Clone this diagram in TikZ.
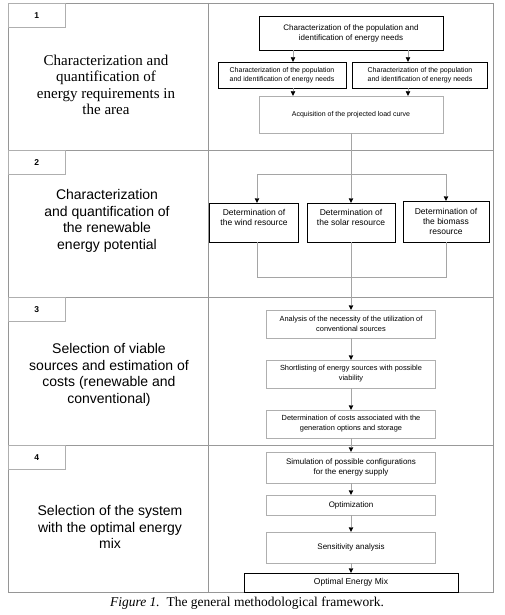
\documentclass[tikz,border=0pt]{standalone}
\usepackage{fontspec}
\setmainfont{Liberation Serif}
\setsansfont{Liberation Sans}
\usetikzlibrary{arrows.meta,positioning}
\definecolor{framecol}{RGB}{150,150,150}
\definecolor{linecol}{RGB}{165,165,165}
\definecolor{boxcol}{RGB}{175,175,175}
\newcommand{\boxfont}[2]{\sffamily\fontsize{#1}{#2}\selectfont}

\tikzset{
  blackbox/.style={draw=black,align=center,inner sep=1pt},
  greybox/.style={draw=boxcol,align=center,inner sep=1pt},
  flow/.style={draw=linecol,-{Triangle[black,length=4.5pt,width=4.5pt]}},
  link/.style={draw=linecol},
  numbox/.style={draw=boxcol,anchor=north west,inner sep=0pt,minimum width=57pt,minimum height=24pt,
    font=\sffamily\bfseries\fontsize{8.5}{10}\selectfont},
  phase/.style={align=center,font=\sffamily\fontsize{14}{16.5}\selectfont}
}

\begin{document}
\begin{tikzpicture}[x=1pt,y=-1pt]
\useasboundingbox (0,0) rectangle (504,615);
% frame and phase rows
\draw[framecol] (8,3) rectangle (493,592);
\draw[framecol] (208,3) -- (208,592);
\foreach \y in {150,297,445}{
  \draw[gray!80,line width=0.9pt] (8,\y) -- (493,\y);
}
\foreach \n/\y in {1/3,2/150,3/297,4/445}{
  \node[numbox] (num\n) at (8,\y) {\n};
}
% phase titles
\node[align=center,font=\fontsize{15}{16.5}\selectfont] (phaseA) at (106,85)
  {Characterization and\\ quantification of\\ energy requirements in\\ the area};
\node[phase] (phaseB) at (107,221)
  {Characterization\\ and quantification of\\ the renewable\\ energy potential};
\node[phase] (phaseC) at (109,375)
  {Selection of viable\\ sources and estimation of\\ costs (renewable and\\ conventional)};
\node[phase] (phaseD) at (110,527)
  {Selection of the system\\ with the optimal energy\\ mix};

% phase 1
\coordinate (tapL) at (293,0);
\coordinate (tapR) at (408,0);
\node[blackbox,minimum width=184pt,minimum height=34pt,font=\boxfont{8}{10}] (popA) at (351,33)
  {Characterization of the population and\\ identification of energy needs};
\node[blackbox,minimum width=128pt,minimum height=26pt,font=\boxfont{7}{9}] (popB) at (282,75)
  {Characterization of the population\\ and identification of energy needs};
\node[blackbox,minimum width=135pt,minimum height=26pt,font=\boxfont{7}{9}] (popC) at (420,75)
  {Characterization of the population\\ and identification of energy needs};
\node[greybox,minimum width=184pt,minimum height=37pt,font=\boxfont{7}{9}] (load) at (351,114.5)
  {Acquisition of the projected load curve};
\draw[flow] (popA.south -| tapL) -- (popB.north -| tapL);
\draw[flow] (popA.south -| tapR) -- (popC.north -| tapR);
\draw[flow] (popB.south -| tapL) -- (load.north -| tapL);
\draw[flow] (popC.south -| tapR) -- (load.north -| tapR);

% phase 2
\node[blackbox,minimum width=89pt,minimum height=39pt,text depth=11pt,font=\boxfont{8.5}{10}] (wind) at (254,222.5)
  {Determination of\\ the wind resource};
\node[blackbox,minimum width=88pt,minimum height=39pt,text depth=11pt,font=\boxfont{8.5}{10}] (solar) at (351,222.5)
  {Determination of\\ the solar resource};
\node[blackbox,minimum width=86pt,minimum height=41pt,font=\boxfont{8.5}{10}] (bio) at (446,221.5)
  {Determination of\\ the biomass\\ resource};
\coordinate (barL) at (257,174);
\coordinate (barR) at (446,174);
\coordinate (footL) at (257,277);
\coordinate (footR) at (446,277);
\draw[flow] (load.south) -- (solar.north);
\draw[link] (barL) -- (barR);
\draw[flow] (barL) -- (barL |- wind.north);
\draw[flow] (barR) -- (bio.north);
\draw[link] (barL |- wind.south) -- (footL) -- (footR) -- (bio.south);

% phase 3
\node[greybox,minimum width=169pt,minimum height=28pt,font=\boxfont{7.4}{10}] (need) at (351,324)
  {Analysis of the necessity of the utilization of\\ conventional sources};
\node[greybox,minimum width=169pt,minimum height=28pt,font=\boxfont{7.4}{10}] (short) at (351,374)
  {Shortlisting of energy sources with possible\\ viability};
\node[greybox,minimum width=169pt,minimum height=28pt,font=\boxfont{7.4}{10}] (cost) at (351,424)
  {Determination of costs associated with the\\ generation options and storage};
\draw[flow] (solar.south) -- (need.north);
\draw[flow] (need) -- (short);
\draw[flow] (short) -- (cost);

% phase 4
\node[greybox,minimum width=169pt,minimum height=31pt,font=\boxfont{8}{10}] (simul) at (351,467.5)
  {Simulation of possible configurations\\ for the energy supply};
\node[greybox,minimum width=169pt,minimum height=20pt,font=\boxfont{8}{10}] (optim) at (351,505)
  {Optimization};
\node[greybox,minimum width=169pt,minimum height=31pt,font=\boxfont{8}{10}] (sens) at (351,547.5)
  {Sensitivity analysis};
\node[blackbox,minimum width=214pt,minimum height=19pt,font=\boxfont{8.5}{10}] (mix) at (351,582.5)
  {Optimal Energy Mix};
\draw[flow] (cost) -- (simul);
\draw[flow] (simul) -- (optim);
\draw[flow] (optim) -- (sens);
\draw[flow] (sens) -- (mix);

% caption
\node[font=\fontsize{13.5}{16}\selectfont] (caption) at (247,603)
  {\textit{Figure 1.}\ \ The general methodological framework.};
\end{tikzpicture}
\end{document}
